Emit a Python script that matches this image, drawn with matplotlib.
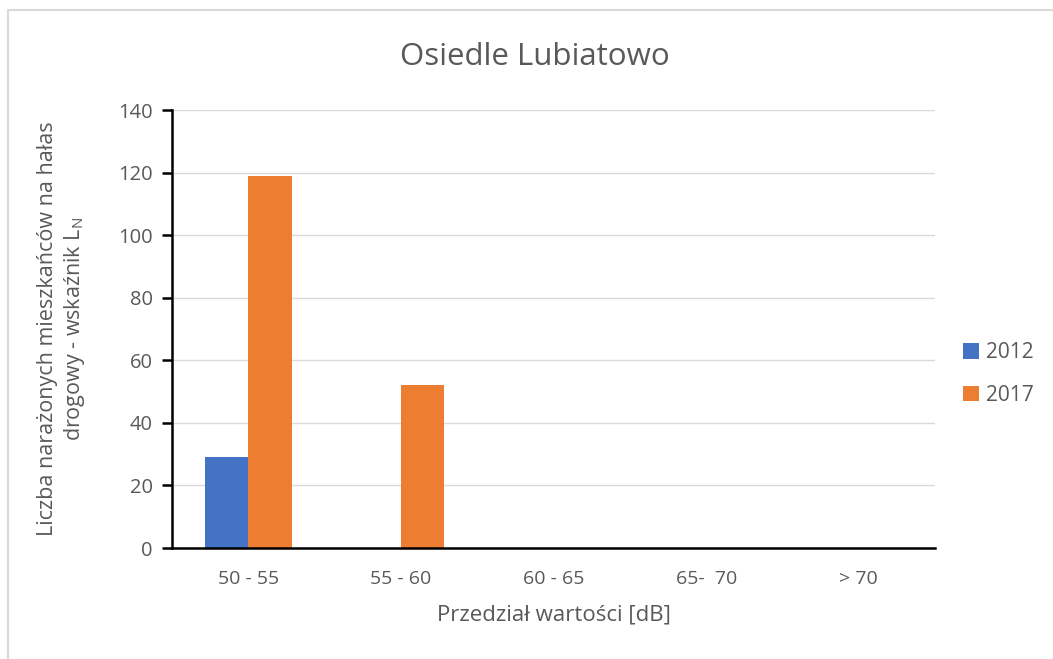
import numpy as np
import matplotlib.pyplot as plt
from matplotlib.patches import Rectangle

# data
categories = ['50 - 55', '55 - 60', '60 - 65', '65-  70', '> 70']
years = ['2012', '2017']
values_2012 = [29, 0, 0, 0, 0]
values_2017 = [119, 52, 0, 0, 0]
colors = ['#4472c4', '#ed7d31']

plt.rcParams['font.family'] = ['Open Sans', 'DejaVu Sans']
text_color = '#595959'

fig = plt.figure(figsize=(10.53, 6.59), dpi=100)
ax = fig.add_axes([0.1633, 0.1684, 0.7247, 0.6646])

# light chart-area frame
fig.patches.append(Rectangle((8 / 1053, -0.1), 1.2, 1 - 10 / 659 + 0.1,
                             transform=fig.transFigure, fill=False,
                             edgecolor='#d9d9d9', linewidth=1.5))

x = np.arange(len(categories))
w = 0.285
ax.bar(x - w / 2, values_2012, w, color=colors[0], label=years[0], zorder=3)
ax.bar(x + w / 2, values_2017, w, color=colors[1], label=years[1], zorder=3)

ax.set_xlim(-0.5, len(categories) - 0.5)
ax.set_ylim(0, 140)
ax.set_yticks(np.arange(0, 141, 20))
ax.set_xticks(x)
ax.set_xticklabels(categories)

ax.grid(axis='y', color='#d9d9d9', linewidth=1, zorder=0)
for s in ['top', 'right']:
    ax.spines[s].set_visible(False)
for s in ['left', 'bottom']:
    ax.spines[s].set_color('black')
    ax.spines[s].set_linewidth(1.8)
    ax.spines[s].set_zorder(4)

ax.tick_params(axis='y', direction='out', length=7, width=1.8, color='black',
               labelsize=14.5, labelcolor=text_color, pad=7)
ax.tick_params(axis='x', length=0, labelsize=14, labelcolor=text_color, pad=16)

# title is centred on the whole chart area, not on the plot
fig.text(0.508, 0.913, 'Osiedle Lubiatowo', fontsize=22.5, color=text_color,
         ha='center', va='center')
ax.set_xlabel('Przedział wartości [dB]', fontsize=16, color=text_color, labelpad=12)
ax.set_ylabel('Liczba narażonych mieszkańców na hałas\ndrogowy - wskaźnik L$_\\mathregular{N}$',
              fontsize=15.5, color=text_color, labelpad=22, linespacing=1.25)

ax.legend(loc='center left', bbox_to_anchor=(1.012, 0.397), frameon=False,
          fontsize=15, labelcolor=text_color, handlelength=0.75, handleheight=0.75,
          handletextpad=0.35, labelspacing=1.05)

fig.savefig('out.png', dpi=100)
